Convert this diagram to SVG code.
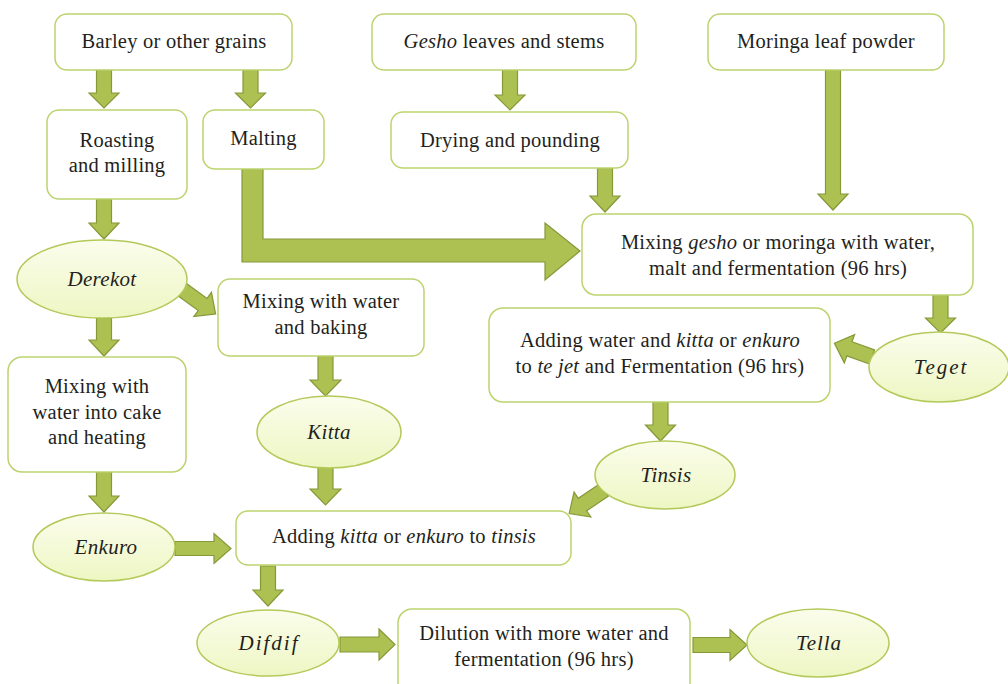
<svg xmlns="http://www.w3.org/2000/svg" width="1008" height="684" viewBox="0 0 1008 684">
<defs>
<linearGradient id="eg" x1="0" y1="0" x2="0" y2="1">
<stop offset="0" stop-color="#fbfdec"/>
<stop offset="1" stop-color="#eef6c3"/>
</linearGradient>
<style>
.box{fill:#ffffff;stroke:#bcd36e;stroke-width:1.5}
.ell{fill:url(#eg);stroke:#b3c95a;stroke-width:1.5}
.arr{fill:#adc152;stroke:#869838;stroke-width:1.2;stroke-linejoin:miter}
text{font-family:"Liberation Serif","Times New Roman",serif;font-size:20.5px;letter-spacing:0.25px;fill:#231f20;text-anchor:middle}
.e{font-size:21px;font-style:italic;letter-spacing:0.3px}
.e.w{letter-spacing:2px}
.e.m{letter-spacing:1px}
.i{font-style:italic}
</style>
</defs>
<rect width="1008" height="684" fill="#ffffff"/>

<g id="connectors">
<polygon class="arr" points="96.5,70 111.5,70 111.5,93 119,93 104,108 89,93 96.5,93"/>
<polygon class="arr" points="243,70 258,70 258,93 265.5,93 250.5,108 235.5,93 243,93"/>
<polygon class="arr" points="502.5,70 517.5,70 517.5,95 525,95 510,110 495,95 502.5,95"/>
<polygon class="arr" points="597.5,168 612.5,168 612.5,196 620,196 605,212 590,196 597.5,196"/>
<polygon class="arr" points="825.5,70 840.5,70 840.5,194 848,194 833,210 818,194 825.5,194"/>
<polygon class="arr" points="96.5,199 111.5,199 111.5,223 119,223 104,239 89,223 96.5,223"/>
<polygon class="arr" points="96.5,318 111.5,318 111.5,340 119,340 104,356 89,340 96.5,340"/>
<polygon class="arr" points="933,295 948,295 948,318 955.5,318 940.5,333 925.5,318 933,318"/>
<polygon class="arr" points="318,356 333,356 333,380 341,380 325.5,396 310,380 318,380"/>
<polygon class="arr" points="653,402 668,402 668,425 675.5,425 660.5,441 645.5,425 653,425"/>
<polygon class="arr" points="96.5,472 111.5,472 111.5,496 119,496 104,512 89,496 96.5,496"/>
<polygon class="arr" points="318,467 333,467 333,489 341,489 325.5,505 310,489 318,489"/>
<polygon class="arr" points="260.5,566 275.5,566 275.5,590 283,590 268,606 253,590 260.5,590"/>
<polygon class="arr" points="175,541.5 214,541.5 214,533.5 231,548.5 214,563.5 214,555.5 175,555.5"/>
<polygon class="arr" points="340,637 379,637 379,629 395,644.5 379,660 379,652 340,652"/>
<polygon class="arr" points="693,637.5 730,637.5 730,629.5 747,645 730,660.5 730,652.5 693,652.5"/>
<polygon class="arr" points="0,-7.5 28,-7.5 28,-15 44,0 28,15 28,7.5 0,7.5" transform="translate(180,288) rotate(36)"/>
<polygon class="arr" points="0,-7.5 24,-7.5 24,-15 40,0 24,15 24,7.5 0,7.5" transform="translate(872,357) rotate(200)"/>
<polygon class="arr" points="0,-7.5 26,-7.5 26,-15 42,0 26,15 26,7.5 0,7.5" transform="translate(604,490) rotate(146)"/>
<polygon class="arr" points="242,169 263,169 263,239 545,239 545,223 580,251 545,280 545,262 242,262"/>
</g>

<g id="barley"><rect class="box" x="55" y="14" width="237" height="56" rx="12"/><text x="174" y="48">Barley or other grains</text></g>
<g id="gesho"><rect class="box" x="372" y="14" width="264" height="56" rx="12"/><text x="504" y="48"><tspan class="i">Gesho</tspan> leaves and stems</text></g>
<g id="moringa"><rect class="box" x="708" y="14" width="236" height="56" rx="12"/><text x="826" y="48">Moringa leaf powder</text></g>
<g id="roasting"><rect class="box" x="47" y="110" width="140" height="89" rx="12"/><text x="117" y="147">Roasting</text><text x="117" y="172">and milling</text></g>
<g id="malting"><rect class="box" x="203" y="110" width="121" height="59" rx="12"/><text x="263.5" y="145">Malting</text></g>
<g id="drying"><rect class="box" x="391" y="112" width="237" height="56" rx="12"/><text x="510" y="147">Drying and pounding</text></g>
<g id="mixing-gesho"><rect class="box" x="582" y="214" width="391" height="81" rx="14"/><text x="778" y="249">Mixing <tspan class="i">gesho</tspan> or moringa with water,</text><text x="778" y="275">malt and fermentation (96 hrs)</text></g>
<g id="derekot"><ellipse class="ell" cx="102" cy="279" rx="85" ry="39"/><text class="e" x="102" y="286">Derekot</text></g>
<g id="mixing-baking"><rect class="box" x="218" y="279" width="206" height="77" rx="12"/><text x="321" y="308">Mixing with water</text><text x="321" y="334">and baking</text></g>
<g id="adding-water"><rect class="box" x="489" y="308" width="341" height="94" rx="14"/><text x="660" y="347">Adding water and <tspan class="i">kitta</tspan> or <tspan class="i">enkuro</tspan></text><text x="660" y="373">to <tspan class="i">te jet</tspan> and Fermentation (96 hrs)</text></g>
<g id="teget"><ellipse class="ell" cx="939" cy="367" rx="70" ry="35"/><text class="e w" x="941" y="374">Teget</text></g>
<g id="mixing-cake"><rect class="box" x="8" y="357" width="178" height="115" rx="14"/><text x="97" y="393">Mixing with</text><text x="97" y="419">water into cake</text><text x="97" y="444">and heating</text></g>
<g id="kitta"><ellipse class="ell" cx="329" cy="432" rx="72" ry="36"/><text class="e" x="329" y="439">Kitta</text></g>
<g id="tinsis"><ellipse class="ell" cx="665" cy="475" rx="70" ry="34"/><text class="e" x="666" y="482">Tinsis</text></g>
<g id="enkuro"><ellipse class="ell" cx="104" cy="547" rx="71" ry="34"/><text class="e" x="106" y="554">Enkuro</text></g>
<g id="adding-kitta"><rect class="box" x="236" y="511" width="335" height="54" rx="12"/><text x="404" y="543">Adding <tspan class="i">kitta</tspan> or <tspan class="i">enkuro</tspan> to <tspan class="i">tinsis</tspan></text></g>
<g id="difdif"><ellipse class="ell" cx="268" cy="643" rx="71" ry="33"/><text class="e w" x="269" y="650">Difdif</text></g>
<g id="dilution"><rect class="box" x="398" y="609" width="292" height="90" rx="14"/><text x="544" y="640">Dilution with more water and</text><text x="544" y="666">fermentation (96 hrs)</text></g>
<g id="tella"><ellipse class="ell" cx="818" cy="643" rx="71" ry="34"/><text class="e m" x="819" y="650">Tella</text></g>
</svg>
